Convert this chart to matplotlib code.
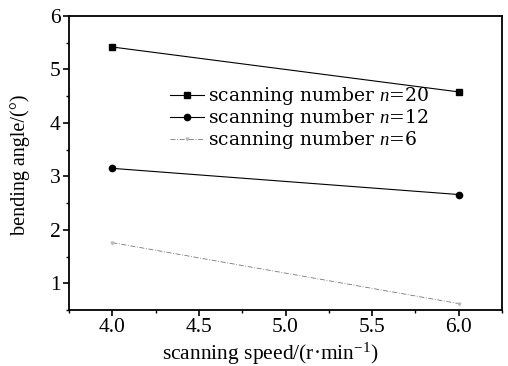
import matplotlib
matplotlib.use("Agg")
import matplotlib.pyplot as plt
from matplotlib.ticker import MultipleLocator

plt.rcParams['font.family'] = ['Liberation Serif', 'DejaVu Serif']
plt.rcParams['mathtext.fontset'] = 'custom'
plt.rcParams['mathtext.rm'] = 'Liberation Serif'
plt.rcParams['mathtext.it'] = 'Liberation Serif:italic'

speed = [4.0, 6.0]
n20 = [5.42, 4.58]
n12 = [3.15, 2.66]
n6 = [1.76, 0.62]
labels = ["scanning number $n$=20", "scanning number $n$=12", "scanning number $n$=6"]

fig = plt.figure(figsize=(5.08, 3.66), dpi=100)
ax = fig.add_axes([69/508, 1-310/366, 433/508, 294/366])

ax.plot(speed, n20, color='black', lw=0.8, marker='s', ms=4.5, label=labels[0])
ax.plot(speed, n12, color='black', lw=0.8, marker='o', ms=4.5, label=labels[1])
ax.plot(speed, n6, color='#777777', lw=0.6, ls=(0, (6, 2, 1, 2)), marker='v', ms=2,
        mfc='#bbbbbb', mec='#bbbbbb', label=labels[2])

ax.set_xlim(3.75, 6.25)
ax.set_ylim(0.5, 6)
ax.xaxis.set_minor_locator(MultipleLocator(0.25))
ax.yaxis.set_minor_locator(MultipleLocator(0.5))
ax.set_xticks([4.0, 4.5, 5.0, 5.5, 6.0])
ax.set_xticklabels(['4.0', '4.5', '5.0', '5.5', '6.0'])
ax.set_yticks([1, 2, 3, 4, 5, 6])
ax.tick_params(which='major', direction='out', length=4, width=1.2, labelsize=15.5, pad=2)
ax.tick_params(which='minor', direction='out', length=2, width=1)
for s in ax.spines.values():
    s.set_linewidth(1.3)

ax.set_xlabel("scanning speed/(r·min$^{-1}$)", fontsize=15.5)
ax.xaxis.set_label_coords(0.464, -0.105)
ax.set_ylabel("bending angle/(°)", fontsize=14.5)
ax.yaxis.set_label_coords(-0.09, 0.493)

ax.legend(loc='upper left', bbox_to_anchor=(0.233, 0.765), frameon=False,
          prop={'family': ['DejaVu Serif'], 'size': 13.5},
          labelspacing=0.0, handlelength=1.8, handletextpad=0.25, borderpad=0, borderaxespad=0)

fig.savefig("out.png", dpi=100)
